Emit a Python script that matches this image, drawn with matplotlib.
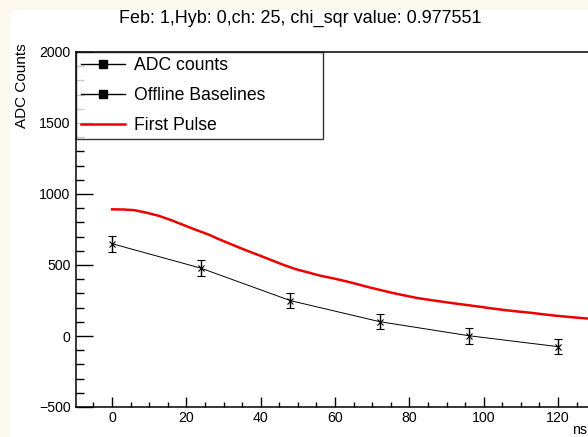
import matplotlib
matplotlib.use("Agg")
import matplotlib.pyplot as plt
from matplotlib.lines import Line2D
from matplotlib.patches import Rectangle
from matplotlib.ticker import MultipleLocator

plt.rcParams['font.family'] = ['Liberation Sans', 'DejaVu Sans']

# ---- data ----
adc_x = [0, 24, 48, 72, 96, 120]
adc_y = [650, 477, 249, 101, 2, -75]
adc_err = [55, 55, 55, 55, 55, 55]

pulse_x = [0, 3, 6, 9, 12.5, 16, 19, 22.5, 26, 29, 32.5, 36, 39.5, 43, 46, 49.5,
           53, 56, 59.5, 63, 66, 69, 72, 75.5, 79, 82, 85.5, 89, 92, 95.5, 99,
           102, 105.5, 109, 112.5, 116, 119, 123, 127, 131, 136]
pulse_y = [892, 891, 886, 870, 847, 815, 784, 748, 714, 679, 641, 604, 569, 533,
           502, 470, 446, 425, 406, 385, 365, 344, 325, 303, 284, 268, 254, 241,
           230, 218, 206, 195, 183, 173, 164, 153, 144, 134, 125, 116, 106]

title = "Feb: 1,Hyb: 0,ch: 25, chi_sqr value: 0.977551"
legend_labels = ["ADC counts", "Offline Baselines", "First Pulse"]

W, H = 588, 437
fig = plt.figure(figsize=(W / 100, H / 100), dpi=100)
fig.patch.set_facecolor('#fcf8ee')
bg = Rectangle((10 / W, 0), 1, 1 - 10 / H, transform=fig.transFigure,
               facecolor='white', edgecolor='none', zorder=-10)
fig.add_artist(bg)

xmin, xmax = -9.7, 135.0
px_per_unit = (558 - 112) / 120.0
ax_w = (xmax - xmin) * px_per_unit / W
ax = fig.add_axes([76 / W, (H - 407) / H, ax_w, (407 - 52) / H])
ax.set_zorder(5)
ax.set_xlim(xmin, xmax)
ax.set_ylim(-500, 2000)
ax.set_facecolor('white')

ax.plot(pulse_x, pulse_y, color='#ee0000', lw=1.8, zorder=3, solid_joinstyle='round')
ax.errorbar(adc_x, adc_y, yerr=adc_err, color='black', lw=0.7, marker='x', ms=5,
            mew=0.8, capsize=3, capthick=1.0, elinewidth=1.0, zorder=4)

ax.xaxis.set_major_locator(MultipleLocator(20))
ax.xaxis.set_minor_locator(MultipleLocator(5))
ax.yaxis.set_major_locator(MultipleLocator(500))
ax.yaxis.set_minor_locator(MultipleLocator(100))
ax.tick_params(axis='both', which='both', direction='in', labelsize=10.2, width=1.0,
               top=False, right=False)
ax.tick_params(axis='y', which='major', length=12, pad=4)
ax.tick_params(axis='y', which='minor', length=6)
ax.tick_params(axis='x', which='major', length=7.5, pad=3)
ax.tick_params(axis='x', which='minor', length=3.5)
for s in ax.spines.values():
    s.set_linewidth(1.1)

fig.text(300 / W, 1 - 18 / H, title, ha='center', va='center', fontsize=13)
fig.text(22 / W, 1 - 43 / H, "ADC Counts", rotation=90, ha='center', va='top', fontsize=11)
fig.text(587 / W, 1 - 430 / H, "ns", ha='right', va='center', fontsize=10.2)

handles = [
    Line2D([], [], color='black', lw=1.0, marker='s', ms=5.5),
    Line2D([], [], color='black', lw=1.0, marker='s', ms=5.5),
    Line2D([], [], color='#ee0000', lw=1.8),
]
lh = 88 / 355
lw_ = (323 - 76) / (ax_w * W)
leg = ax.legend(handles, legend_labels, loc='upper left', mode='expand',
                bbox_to_anchor=(0, 1 - lh, lw_, lh), borderaxespad=0,
                fontsize=12.7, frameon=True, fancybox=False, handlelength=2.5,
                handletextpad=0.5, labelspacing=0.72, borderpad=0.3)
leg.get_frame().set_edgecolor('black')
leg.get_frame().set_linewidth(1.0)

fig.savefig('out.png', dpi=100, facecolor=fig.get_facecolor())
